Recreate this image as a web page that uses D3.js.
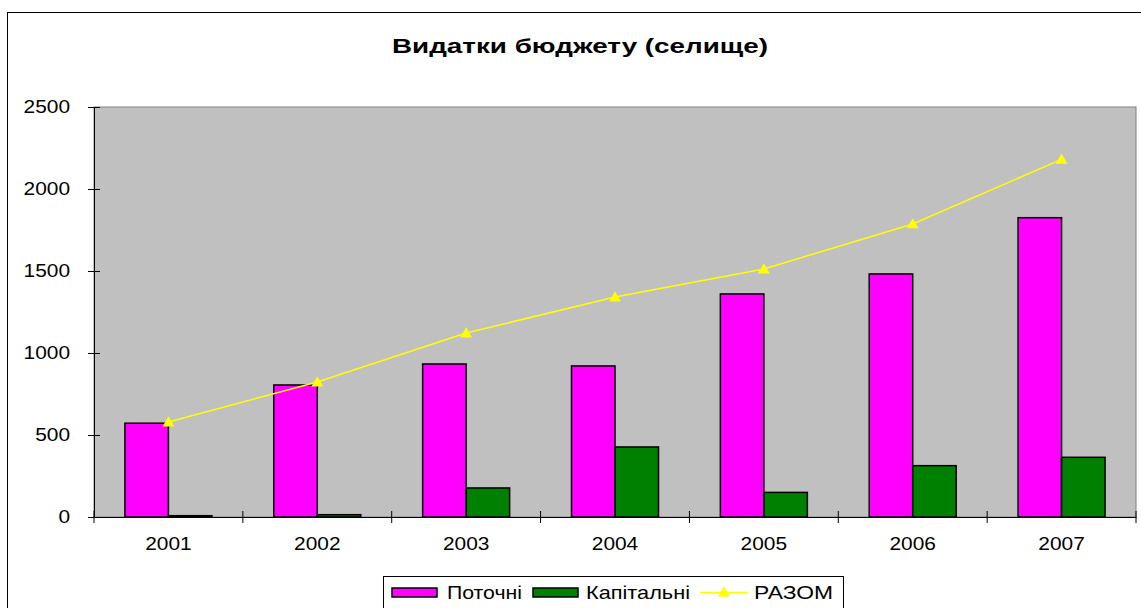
<!DOCTYPE html>
<html>
<head>
<meta charset="utf-8">
<script src="https://cdn.jsdelivr.net/npm/d3@7"></script>
<style>
  body { margin: 0; background: #fff; }
  svg text { font-family: "Liberation Sans", Arial, sans-serif; fill: #000; }
</style>
</head>
<body>
<svg width="1141" height="608"></svg>
<script>
// дані
const years = ["2001", "2002", "2003", "2004", "2005", "2006", "2007"];
const potochni = [572, 805, 933, 921, 1360, 1482, 1825];
const kapitalni = [8, 14, 177, 427, 150, 313, 364];
const razom = [579, 823, 1122, 1341, 1512, 1787, 2181];
const yTicks = [0, 500, 1000, 1500, 2000, 2500];

const svg = d3.select("svg");
const sx = 1.13; // текст у зразку трохи розтягнутий по горизонталі

// рамка діаграми
svg.append("rect")
   .attr("x", 7.5).attr("y", 12.5)
   .attr("width", 1140).attr("height", 610)
   .attr("fill", "#fff").attr("stroke", "#000").attr("stroke-width", 1);

svg.append("text")
   .attr("x", 392).attr("y", 53)
   .attr("textLength", 376).attr("lengthAdjust", "spacingAndGlyphs")
   .style("font-size", "21px").style("font-weight", "bold")
   .text("Видатки бюджету (селище)");

const pLeft = 94, pRight = 1136, pTop = 107, pBottom = 517;

const x = d3.scaleBand().domain(years).range([pLeft, pRight]);
const y = d3.scaleLinear().domain([0, 2500]).range([pBottom, pTop]);

// область побудови
svg.append("rect")
   .attr("x", pLeft).attr("y", pTop)
   .attr("width", pRight - pLeft).attr("height", pBottom - pTop)
   .attr("fill", "#c0c0c0").attr("stroke", "#808080").attr("stroke-width", 1);

const barW = 43.5;

// стовпці
svg.selectAll(".bar1")
   .data(potochni)
   .enter()
   .append("rect")
   .attr("x", (d, i) => x(years[i]) + x.bandwidth() / 2 - barW)
   .attr("y", d => y(d))
   .attr("width", barW)
   .attr("height", d => y(0) - y(d))
   .attr("fill", "#ff00ff").attr("stroke", "#000").attr("stroke-width", 1.5);

svg.selectAll(".bar2")
   .data(kapitalni)
   .enter()
   .append("rect")
   .attr("x", (d, i) => x(years[i]) + x.bandwidth() / 2)
   .attr("y", d => y(d))
   .attr("width", barW)
   .attr("height", d => y(0) - y(d))
   .attr("fill", "#008000").attr("stroke", "#000").attr("stroke-width", 1.5);

// осі
const yAxis = svg.append("g")
   .attr("transform", `translate(${pLeft},0)`)
   .call(d3.axisLeft(y).tickValues(yTicks).tickFormat(d3.format("d"))
         .tickSizeInner(6).tickSizeOuter(0).tickPadding(18));
yAxis.select(".domain").attr("stroke", "#000");
yAxis.selectAll(".tick line").attr("x1", 6).attr("x2", -6);

const xAxis = svg.append("g")
   .attr("transform", `translate(0,${pBottom})`)
   .call(d3.axisBottom(x).tickSize(0).tickPadding(20));
xAxis.select(".domain").attr("stroke", "#000");

yAxis.attr("font-family", null).attr("font-size", null);
xAxis.attr("font-family", null).attr("font-size", null);
yAxis.selectAll(".tick text").style("font-size", "18.5px");
xAxis.selectAll(".tick text").style("font-size", "18.5px");

svg.append("g")
   .selectAll("line")
   .data(years.concat(["end"]))
   .enter()
   .append("line")
   .attr("x1", (d, i) => pLeft + i * x.bandwidth())
   .attr("x2", (d, i) => pLeft + i * x.bandwidth())
   .attr("y1", pBottom - 6).attr("y2", pBottom + 6)
   .attr("stroke", "#000");

// розтягнення підписів осей
yAxis.selectAll(".tick text").attr("transform", function () {
  const tx = +d3.select(this).attr("x");
  return `translate(${tx},0) scale(${sx},1) translate(${-tx},0)`;
});
xAxis.selectAll(".tick text").attr("transform", `scale(${sx},1)`);

// лінія РАЗОМ
const line = d3.line()
   .x((d, i) => x(years[i]) + x.bandwidth() / 2)
   .y(d => y(d));

svg.append("path")
   .datum(razom)
   .attr("d", line)
   .attr("fill", "none").attr("stroke", "#ffff00").attr("stroke-width", 1.5);

const tri = d3.symbol().type(d3.symbolTriangle).size(60);
svg.selectAll(".marker")
   .data(razom)
   .enter()
   .append("path")
   .attr("d", tri)
   .attr("transform", (d, i) => `translate(${x(years[i]) + x.bandwidth() / 2},${y(d) + 1})`)
   .attr("fill", "#ffff00");

// легенда
const lg = svg.append("g");
lg.append("rect")
  .attr("x", 383.5).attr("y", 576.5).attr("width", 460).attr("height", 40)
  .attr("fill", "#fff").attr("stroke", "#000");

const legendItems = [
  { name: "Поточні", color: "#ff00ff", type: "bar", x: 392, tx: 447, w: 75 },
  { name: "Капітальні", color: "#008000", type: "bar", x: 533, tx: 586, w: 104 },
  { name: "РАЗОМ", color: "#ffff00", type: "line", x: 700, tx: 754, w: 79 }
];

legendItems.forEach(it => {
  if (it.type === "bar") {
    lg.append("rect")
      .attr("x", it.x).attr("y", 588).attr("width", 45).attr("height", 9)
      .attr("fill", it.color).attr("stroke", "#000").attr("stroke-width", 1.5);
  } else {
    lg.append("line")
      .attr("x1", it.x).attr("x2", it.x + 48).attr("y1", 592.5).attr("y2", 592.5)
      .attr("stroke", it.color).attr("stroke-width", 1.5);
    lg.append("path")
      .attr("d", tri)
      .attr("transform", `translate(${it.x + 24},593)`)
      .attr("fill", it.color);
  }
  lg.append("text")
    .attr("x", it.tx)
    .attr("y", 599)
    .attr("textLength", it.w).attr("lengthAdjust", "spacingAndGlyphs")
    .style("font-size", "18.5px")
    .text(it.name);
});
</script>
</body>
</html>
